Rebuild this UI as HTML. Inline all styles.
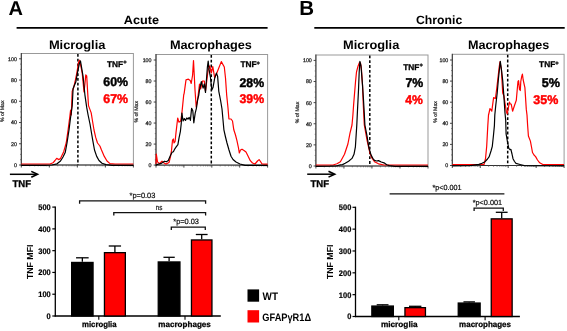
<!DOCTYPE html>
<html><head><meta charset="utf-8"><style>
html,body{margin:0;padding:0;background:#fff;width:567px;height:331px;overflow:hidden}
svg{display:block;will-change:transform}
text{font-family:"Liberation Sans", sans-serif;text-rendering:geometricPrecision}
</style></head><body>
<svg width="567" height="331" viewBox="0 0 567 331">
<rect width="567" height="331" fill="#fff"/>
<text x="8.6" y="15" font-size="20" fill="#000" font-weight="bold" >A</text>
<text x="299.3" y="15" font-size="20.5" fill="#000" font-weight="bold" >B</text>
<text x="123.8" y="24.1" font-size="12" fill="#000" font-weight="bold" textLength="35.2" lengthAdjust="spacingAndGlyphs" >Acute</text>
<text x="416.0" y="24.1" font-size="12" fill="#000" font-weight="bold" textLength="46.2" lengthAdjust="spacingAndGlyphs" >Chronic</text>
<line x1="16.6" y1="27.9" x2="267.6" y2="27.9" stroke="#000" stroke-width="1.6" />
<line x1="314.3" y1="27.9" x2="564.7" y2="27.9" stroke="#000" stroke-width="1.6" />
<text x="48.9" y="49" font-size="12.3" fill="#000" font-weight="bold" textLength="56.5" lengthAdjust="spacingAndGlyphs" >Microglia</text>
<text x="169.9" y="48.9" font-size="12.3" fill="#000" font-weight="bold" textLength="82.0" lengthAdjust="spacingAndGlyphs" >Macrophages</text>
<text x="343.1" y="49" font-size="12.3" fill="#000" font-weight="bold" textLength="56.2" lengthAdjust="spacingAndGlyphs" >Microglia</text>
<text x="468.0" y="49.2" font-size="12.3" fill="#000" font-weight="bold" textLength="81.4" lengthAdjust="spacingAndGlyphs" >Macrophages</text>
<rect x="21.3" y="53.5" width="112.10000000000001" height="111.5" fill="none" stroke="#999" stroke-width="1"/>
<line x1="21.3" y1="53.0" x2="21.3" y2="165.5" stroke="#333" stroke-width="1.0" />
<line x1="20.8" y1="165.0" x2="133.4" y2="165.0" stroke="#333" stroke-width="1.0" />
<line x1="19.0" y1="165.0" x2="21.3" y2="165.0" stroke="#333" stroke-width="0.9" />
<text x="16.9" y="166.9" font-size="5.3" fill="#222" font-weight="normal" text-anchor="end" stroke="#222" stroke-width="0.25">0</text>
<line x1="19.0" y1="143.76" x2="21.3" y2="143.76" stroke="#333" stroke-width="0.9" />
<text x="16.9" y="145.66" font-size="5.3" fill="#222" font-weight="normal" text-anchor="end" stroke="#222" stroke-width="0.25">20</text>
<line x1="19.0" y1="122.52" x2="21.3" y2="122.52" stroke="#333" stroke-width="0.9" />
<text x="16.9" y="124.42" font-size="5.3" fill="#222" font-weight="normal" text-anchor="end" stroke="#222" stroke-width="0.25">40</text>
<line x1="19.0" y1="101.28" x2="21.3" y2="101.28" stroke="#333" stroke-width="0.9" />
<text x="16.9" y="103.18" font-size="5.3" fill="#222" font-weight="normal" text-anchor="end" stroke="#222" stroke-width="0.25">60</text>
<line x1="19.0" y1="80.03999999999999" x2="21.3" y2="80.03999999999999" stroke="#333" stroke-width="0.9" />
<text x="16.9" y="81.94" font-size="5.3" fill="#222" font-weight="normal" text-anchor="end" stroke="#222" stroke-width="0.25">80</text>
<line x1="19.0" y1="58.8" x2="21.3" y2="58.8" stroke="#333" stroke-width="0.9" />
<text x="16.9" y="60.699999999999996" font-size="5.3" fill="#222" font-weight="normal" text-anchor="end" stroke="#222" stroke-width="0.25">100</text>
<line x1="20.1" y1="159.69" x2="21.3" y2="159.69" stroke="#555" stroke-width="0.7" />
<line x1="20.1" y1="154.38" x2="21.3" y2="154.38" stroke="#555" stroke-width="0.7" />
<line x1="20.1" y1="149.07" x2="21.3" y2="149.07" stroke="#555" stroke-width="0.7" />
<line x1="20.1" y1="138.45" x2="21.3" y2="138.45" stroke="#555" stroke-width="0.7" />
<line x1="20.1" y1="133.14" x2="21.3" y2="133.14" stroke="#555" stroke-width="0.7" />
<line x1="20.1" y1="127.83" x2="21.3" y2="127.83" stroke="#555" stroke-width="0.7" />
<line x1="20.1" y1="117.21000000000001" x2="21.3" y2="117.21000000000001" stroke="#555" stroke-width="0.7" />
<line x1="20.1" y1="111.9" x2="21.3" y2="111.9" stroke="#555" stroke-width="0.7" />
<line x1="20.1" y1="106.59" x2="21.3" y2="106.59" stroke="#555" stroke-width="0.7" />
<line x1="20.1" y1="95.97" x2="21.3" y2="95.97" stroke="#555" stroke-width="0.7" />
<line x1="20.1" y1="90.66" x2="21.3" y2="90.66" stroke="#555" stroke-width="0.7" />
<line x1="20.1" y1="85.35" x2="21.3" y2="85.35" stroke="#555" stroke-width="0.7" />
<line x1="20.1" y1="74.72999999999999" x2="21.3" y2="74.72999999999999" stroke="#555" stroke-width="0.7" />
<line x1="20.1" y1="69.42" x2="21.3" y2="69.42" stroke="#555" stroke-width="0.7" />
<line x1="20.1" y1="64.11" x2="21.3" y2="64.11" stroke="#555" stroke-width="0.7" />
<line x1="21.3" y1="165.0" x2="21.3" y2="167.5" stroke="#333" stroke-width="0.9" />
<line x1="29.736365628483075" y1="165.0" x2="29.736365628483075" y2="166.3" stroke="#555" stroke-width="0.7" />
<line x1="34.671323163518544" y1="165.0" x2="34.671323163518544" y2="166.3" stroke="#555" stroke-width="0.7" />
<line x1="38.172731256966145" y1="165.0" x2="38.172731256966145" y2="166.3" stroke="#555" stroke-width="0.7" />
<line x1="40.88863437151693" y1="165.0" x2="40.88863437151693" y2="166.3" stroke="#555" stroke-width="0.7" />
<line x1="43.10768879200161" y1="165.0" x2="43.10768879200161" y2="166.3" stroke="#555" stroke-width="0.7" />
<line x1="44.983872571399544" y1="165.0" x2="44.983872571399544" y2="166.3" stroke="#555" stroke-width="0.7" />
<line x1="46.60909688544922" y1="165.0" x2="46.60909688544922" y2="166.3" stroke="#555" stroke-width="0.7" />
<line x1="48.04264632703708" y1="165.0" x2="48.04264632703708" y2="166.3" stroke="#555" stroke-width="0.7" />
<line x1="49.325" y1="165.0" x2="49.325" y2="167.5" stroke="#333" stroke-width="0.9" />
<line x1="57.76136562848308" y1="165.0" x2="57.76136562848308" y2="166.3" stroke="#555" stroke-width="0.7" />
<line x1="62.69632316351854" y1="165.0" x2="62.69632316351854" y2="166.3" stroke="#555" stroke-width="0.7" />
<line x1="66.19773125696615" y1="165.0" x2="66.19773125696615" y2="166.3" stroke="#555" stroke-width="0.7" />
<line x1="68.91363437151693" y1="165.0" x2="68.91363437151693" y2="166.3" stroke="#555" stroke-width="0.7" />
<line x1="71.13268879200162" y1="165.0" x2="71.13268879200162" y2="166.3" stroke="#555" stroke-width="0.7" />
<line x1="73.00887257139955" y1="165.0" x2="73.00887257139955" y2="166.3" stroke="#555" stroke-width="0.7" />
<line x1="74.63409688544922" y1="165.0" x2="74.63409688544922" y2="166.3" stroke="#555" stroke-width="0.7" />
<line x1="76.06764632703708" y1="165.0" x2="76.06764632703708" y2="166.3" stroke="#555" stroke-width="0.7" />
<line x1="77.35000000000001" y1="165.0" x2="77.35000000000001" y2="167.5" stroke="#333" stroke-width="0.9" />
<line x1="85.78636562848308" y1="165.0" x2="85.78636562848308" y2="166.3" stroke="#555" stroke-width="0.7" />
<line x1="90.72132316351855" y1="165.0" x2="90.72132316351855" y2="166.3" stroke="#555" stroke-width="0.7" />
<line x1="94.22273125696616" y1="165.0" x2="94.22273125696616" y2="166.3" stroke="#555" stroke-width="0.7" />
<line x1="96.93863437151694" y1="165.0" x2="96.93863437151694" y2="166.3" stroke="#555" stroke-width="0.7" />
<line x1="99.15768879200162" y1="165.0" x2="99.15768879200162" y2="166.3" stroke="#555" stroke-width="0.7" />
<line x1="101.03387257139956" y1="165.0" x2="101.03387257139956" y2="166.3" stroke="#555" stroke-width="0.7" />
<line x1="102.65909688544923" y1="165.0" x2="102.65909688544923" y2="166.3" stroke="#555" stroke-width="0.7" />
<line x1="104.09264632703709" y1="165.0" x2="104.09264632703709" y2="166.3" stroke="#555" stroke-width="0.7" />
<line x1="105.375" y1="165.0" x2="105.375" y2="167.5" stroke="#333" stroke-width="0.9" />
<line x1="113.81136562848307" y1="165.0" x2="113.81136562848307" y2="166.3" stroke="#555" stroke-width="0.7" />
<line x1="118.74632316351854" y1="165.0" x2="118.74632316351854" y2="166.3" stroke="#555" stroke-width="0.7" />
<line x1="122.24773125696615" y1="165.0" x2="122.24773125696615" y2="166.3" stroke="#555" stroke-width="0.7" />
<line x1="124.96363437151693" y1="165.0" x2="124.96363437151693" y2="166.3" stroke="#555" stroke-width="0.7" />
<line x1="127.18268879200161" y1="165.0" x2="127.18268879200161" y2="166.3" stroke="#555" stroke-width="0.7" />
<line x1="129.05887257139955" y1="165.0" x2="129.05887257139955" y2="166.3" stroke="#555" stroke-width="0.7" />
<line x1="130.6840968854492" y1="165.0" x2="130.6840968854492" y2="166.3" stroke="#555" stroke-width="0.7" />
<line x1="132.11764632703708" y1="165.0" x2="132.11764632703708" y2="166.3" stroke="#555" stroke-width="0.7" />
<line x1="133.4" y1="165.0" x2="133.4" y2="167.5" stroke="#333" stroke-width="0.9" />
<text x="3.9" y="111.25" font-size="5.2" fill="#222" font-weight="normal" text-anchor="middle" transform="rotate(-90 3.9 111.25)" stroke="#222" stroke-width="0.2">% of Max</text>
<line x1="77.9" y1="54.0" x2="77.9" y2="165.0" stroke="#000" stroke-width="1.5" stroke-dasharray="2.8,2.0"/>
<polyline points="21.3,164.0 38.0,164.0 44.0,164.0 50.0,164.0 53.0,162.8 55.0,160.5 56.7,158.3 58.5,159.6 60.5,158.6 63.7,151.7 66.2,143.0 68.1,129.8 69.6,118.3 70.6,110.0 71.3,115.0 72.2,91.2 73.7,87.5 75.0,82.0 76.8,73.0 78.6,62.2 79.5,60.2 80.4,64.0 82.2,73.0 83.1,82.1 84.0,92.0 84.9,84.0 85.8,74.9 86.7,75.8 87.6,91.2 88.5,105.6 91.2,112.9 92.5,121.0 94.0,130.0 95.7,137.4 97.5,143.0 99.9,146.0 101.5,150.0 104.3,156.4 107.0,161.0 110.0,163.6 115.0,164.0 133.4,164.0" fill="none" stroke="#ff0000" stroke-width="1.2" stroke-linejoin="round"/>
<polyline points="21.3,165.3 45.0,165.3 52.0,165.0 57.0,163.8 60.5,161.0 63.0,157.0 65.2,152.6 67.0,143.0 69.0,129.8 70.5,118.0 72.2,106.0 73.1,88.5 75.8,82.1 77.7,71.3 79.5,63.0 80.5,61.0 81.3,65.8 83.1,76.7 84.9,94.8 86.7,107.4 88.1,115.0 90.0,124.0 91.5,133.0 92.9,141.2 94.5,150.0 96.7,156.4 99.0,160.5 102.0,163.3 106.0,164.6 112.0,165.3 133.4,165.3" fill="none" stroke="#000" stroke-width="1.2" stroke-linejoin="round"/>
<text x="107.0" y="66.8" font-size="8.3" fill="#000" font-weight="bold" stroke="#000" stroke-width="0.3">TNF<tspan font-size="5.8" dy="-2.4">+</tspan></text>
<text x="103.3" y="86.3" font-size="12.6" fill="#000" font-weight="bold" textLength="24.8" lengthAdjust="spacingAndGlyphs" stroke="#000" stroke-width="0.45">60%</text>
<text x="103.3" y="103.2" font-size="12.6" fill="#ff0000" font-weight="bold" textLength="24.8" lengthAdjust="spacingAndGlyphs" stroke="#ff0000" stroke-width="0.45">67%</text>
<rect x="156.0" y="54.5" width="111.60000000000002" height="110.6" fill="none" stroke="#999" stroke-width="1"/>
<line x1="156.0" y1="54.0" x2="156.0" y2="165.6" stroke="#333" stroke-width="1.0" />
<line x1="155.5" y1="165.1" x2="267.6" y2="165.1" stroke="#333" stroke-width="1.0" />
<line x1="153.7" y1="165.1" x2="156.0" y2="165.1" stroke="#333" stroke-width="0.9" />
<text x="151.5" y="167.0" font-size="5.3" fill="#222" font-weight="normal" text-anchor="end" stroke="#222" stroke-width="0.25">0</text>
<line x1="153.7" y1="144.07999999999998" x2="156.0" y2="144.07999999999998" stroke="#333" stroke-width="0.9" />
<text x="151.5" y="145.98" font-size="5.3" fill="#222" font-weight="normal" text-anchor="end" stroke="#222" stroke-width="0.25">20</text>
<line x1="153.7" y1="123.06" x2="156.0" y2="123.06" stroke="#333" stroke-width="0.9" />
<text x="151.5" y="124.96000000000001" font-size="5.3" fill="#222" font-weight="normal" text-anchor="end" stroke="#222" stroke-width="0.25">40</text>
<line x1="153.7" y1="102.03999999999999" x2="156.0" y2="102.03999999999999" stroke="#333" stroke-width="0.9" />
<text x="151.5" y="103.94" font-size="5.3" fill="#222" font-weight="normal" text-anchor="end" stroke="#222" stroke-width="0.25">60</text>
<line x1="153.7" y1="81.02" x2="156.0" y2="81.02" stroke="#333" stroke-width="0.9" />
<text x="151.5" y="82.92" font-size="5.3" fill="#222" font-weight="normal" text-anchor="end" stroke="#222" stroke-width="0.25">80</text>
<line x1="153.7" y1="60.0" x2="156.0" y2="60.0" stroke="#333" stroke-width="0.9" />
<text x="151.5" y="61.9" font-size="5.3" fill="#222" font-weight="normal" text-anchor="end" stroke="#222" stroke-width="0.25">100</text>
<line x1="154.8" y1="159.845" x2="156.0" y2="159.845" stroke="#555" stroke-width="0.7" />
<line x1="154.8" y1="154.59" x2="156.0" y2="154.59" stroke="#555" stroke-width="0.7" />
<line x1="154.8" y1="149.335" x2="156.0" y2="149.335" stroke="#555" stroke-width="0.7" />
<line x1="154.8" y1="138.825" x2="156.0" y2="138.825" stroke="#555" stroke-width="0.7" />
<line x1="154.8" y1="133.57" x2="156.0" y2="133.57" stroke="#555" stroke-width="0.7" />
<line x1="154.8" y1="128.315" x2="156.0" y2="128.315" stroke="#555" stroke-width="0.7" />
<line x1="154.8" y1="117.805" x2="156.0" y2="117.805" stroke="#555" stroke-width="0.7" />
<line x1="154.8" y1="112.55" x2="156.0" y2="112.55" stroke="#555" stroke-width="0.7" />
<line x1="154.8" y1="107.29499999999999" x2="156.0" y2="107.29499999999999" stroke="#555" stroke-width="0.7" />
<line x1="154.8" y1="96.785" x2="156.0" y2="96.785" stroke="#555" stroke-width="0.7" />
<line x1="154.8" y1="91.53" x2="156.0" y2="91.53" stroke="#555" stroke-width="0.7" />
<line x1="154.8" y1="86.275" x2="156.0" y2="86.275" stroke="#555" stroke-width="0.7" />
<line x1="154.8" y1="75.765" x2="156.0" y2="75.765" stroke="#555" stroke-width="0.7" />
<line x1="154.8" y1="70.51" x2="156.0" y2="70.51" stroke="#555" stroke-width="0.7" />
<line x1="154.8" y1="65.255" x2="156.0" y2="65.255" stroke="#555" stroke-width="0.7" />
<line x1="156.0" y1="165.1" x2="156.0" y2="167.6" stroke="#333" stroke-width="0.9" />
<line x1="164.39873687902508" y1="165.1" x2="164.39873687902508" y2="166.4" stroke="#555" stroke-width="0.7" />
<line x1="169.31168300667858" y1="165.1" x2="169.31168300667858" y2="166.4" stroke="#555" stroke-width="0.7" />
<line x1="172.79747375805016" y1="165.1" x2="172.79747375805016" y2="166.4" stroke="#555" stroke-width="0.7" />
<line x1="175.50126312097493" y1="165.1" x2="175.50126312097493" y2="166.4" stroke="#555" stroke-width="0.7" />
<line x1="177.71041988570366" y1="165.1" x2="177.71041988570366" y2="166.4" stroke="#555" stroke-width="0.7" />
<line x1="179.57823531639778" y1="165.1" x2="179.57823531639778" y2="166.4" stroke="#555" stroke-width="0.7" />
<line x1="181.19621063707524" y1="165.1" x2="181.19621063707524" y2="166.4" stroke="#555" stroke-width="0.7" />
<line x1="182.62336601335716" y1="165.1" x2="182.62336601335716" y2="166.4" stroke="#555" stroke-width="0.7" />
<line x1="183.9" y1="165.1" x2="183.9" y2="167.6" stroke="#333" stroke-width="0.9" />
<line x1="192.29873687902509" y1="165.1" x2="192.29873687902509" y2="166.4" stroke="#555" stroke-width="0.7" />
<line x1="197.21168300667858" y1="165.1" x2="197.21168300667858" y2="166.4" stroke="#555" stroke-width="0.7" />
<line x1="200.69747375805017" y1="165.1" x2="200.69747375805017" y2="166.4" stroke="#555" stroke-width="0.7" />
<line x1="203.40126312097493" y1="165.1" x2="203.40126312097493" y2="166.4" stroke="#555" stroke-width="0.7" />
<line x1="205.61041988570366" y1="165.1" x2="205.61041988570366" y2="166.4" stroke="#555" stroke-width="0.7" />
<line x1="207.4782353163978" y1="165.1" x2="207.4782353163978" y2="166.4" stroke="#555" stroke-width="0.7" />
<line x1="209.09621063707525" y1="165.1" x2="209.09621063707525" y2="166.4" stroke="#555" stroke-width="0.7" />
<line x1="210.5233660133572" y1="165.1" x2="210.5233660133572" y2="166.4" stroke="#555" stroke-width="0.7" />
<line x1="211.8" y1="165.1" x2="211.8" y2="167.6" stroke="#333" stroke-width="0.9" />
<line x1="220.1987368790251" y1="165.1" x2="220.1987368790251" y2="166.4" stroke="#555" stroke-width="0.7" />
<line x1="225.1116830066786" y1="165.1" x2="225.1116830066786" y2="166.4" stroke="#555" stroke-width="0.7" />
<line x1="228.59747375805017" y1="165.1" x2="228.59747375805017" y2="166.4" stroke="#555" stroke-width="0.7" />
<line x1="231.30126312097494" y1="165.1" x2="231.30126312097494" y2="166.4" stroke="#555" stroke-width="0.7" />
<line x1="233.51041988570367" y1="165.1" x2="233.51041988570367" y2="166.4" stroke="#555" stroke-width="0.7" />
<line x1="235.3782353163978" y1="165.1" x2="235.3782353163978" y2="166.4" stroke="#555" stroke-width="0.7" />
<line x1="236.99621063707525" y1="165.1" x2="236.99621063707525" y2="166.4" stroke="#555" stroke-width="0.7" />
<line x1="238.42336601335717" y1="165.1" x2="238.42336601335717" y2="166.4" stroke="#555" stroke-width="0.7" />
<line x1="239.70000000000002" y1="165.1" x2="239.70000000000002" y2="167.6" stroke="#333" stroke-width="0.9" />
<line x1="248.0987368790251" y1="165.1" x2="248.0987368790251" y2="166.4" stroke="#555" stroke-width="0.7" />
<line x1="253.0116830066786" y1="165.1" x2="253.0116830066786" y2="166.4" stroke="#555" stroke-width="0.7" />
<line x1="256.49747375805015" y1="165.1" x2="256.49747375805015" y2="166.4" stroke="#555" stroke-width="0.7" />
<line x1="259.20126312097494" y1="165.1" x2="259.20126312097494" y2="166.4" stroke="#555" stroke-width="0.7" />
<line x1="261.4104198857037" y1="165.1" x2="261.4104198857037" y2="166.4" stroke="#555" stroke-width="0.7" />
<line x1="263.2782353163978" y1="165.1" x2="263.2782353163978" y2="166.4" stroke="#555" stroke-width="0.7" />
<line x1="264.8962106370752" y1="165.1" x2="264.8962106370752" y2="166.4" stroke="#555" stroke-width="0.7" />
<line x1="266.3233660133572" y1="165.1" x2="266.3233660133572" y2="166.4" stroke="#555" stroke-width="0.7" />
<line x1="267.6" y1="165.1" x2="267.6" y2="167.6" stroke="#333" stroke-width="0.9" />
<text x="138.1" y="111.8" font-size="5.2" fill="#222" font-weight="normal" text-anchor="middle" transform="rotate(-90 138.1 111.8)" stroke="#222" stroke-width="0.2">% of Max</text>
<line x1="211.3" y1="55.0" x2="211.3" y2="165.1" stroke="#000" stroke-width="1.5" stroke-dasharray="2.8,2.0"/>
<polyline points="156.0,164.1 156.3,154.2 157.5,161.8 159.4,163.7 162.0,161.2 163.3,162.5 165.8,164.1 169.0,162.5 170.5,156.7 171.5,150.4 172.5,140.2 173.4,139.0 174.0,142.8 175.1,141.5 176.0,132.6 177.0,124.0 177.7,118.0 178.9,122.2 180.7,121.0 181.9,113.1 183.7,95.0 184.2,93.1 186.0,79.8 188.4,79.2 190.2,80.4 191.2,83.5 192.6,75.0 193.5,60.5 195.0,90.0 196.2,107.0 197.6,99.8 198.8,90.0 199.5,84.0 200.7,88.8 202.5,81.0 204.3,81.0 205.5,91.3 208.0,70.7 209.8,65.9 211.3,73.0 212.8,66.5 214.6,77.4 215.8,75.5 218.2,69.5 221.3,61.6 224.3,67.0 225.5,78.0 226.7,95.3 228.0,108.0 228.9,118.8 231.0,119.0 232.5,121.0 233.8,129.8 235.5,135.0 237.0,140.9 238.5,148.0 239.3,153.0 240.5,150.0 242.0,149.2 244.0,150.5 246.0,152.0 248.0,156.0 250.3,160.7 252.5,163.0 255.0,164.0 257.5,161.0 259.1,159.6 260.5,161.5 262.0,164.0 264.0,164.1 267.6,164.1" fill="none" stroke="#ff0000" stroke-width="1.2" stroke-linejoin="round"/>
<polyline points="156.0,165.3 157.5,164.3 160.7,163.7 162.6,162.5 164.5,161.2 166.4,161.8 168.3,160.6 170.2,156.1 172.1,152.3 173.4,151.7 174.7,149.1 176.0,147.2 177.9,144.7 179.1,137.7 180.4,131.3 181.2,124.0 181.9,113.1 183.1,121.0 184.3,118.6 185.5,120.4 186.8,118.0 188.0,119.2 189.2,117.4 190.4,120.4 191.6,108.3 192.8,110.7 193.8,122.8 195.2,113.1 196.4,108.3 197.6,99.8 198.8,95.0 199.5,90.0 201.3,81.6 203.1,88.2 204.3,84.0 205.5,92.5 207.4,67.0 208.2,61.0 209.2,70.7 210.4,76.8 211.8,90.0 213.0,87.6 214.6,78.6 216.4,73.1 217.6,76.1 218.8,91.3 220.5,100.0 222.0,109.0 223.9,129.8 225.5,137.0 227.0,143.0 229.0,150.0 231.0,156.3 233.0,159.5 236.0,162.0 240.0,164.0 245.0,165.3 267.6,165.4" fill="none" stroke="#000" stroke-width="1.2" stroke-linejoin="round"/>
<text x="240.4" y="67.4" font-size="8.3" fill="#000" font-weight="bold" stroke="#000" stroke-width="0.3">TNF<tspan font-size="5.8" dy="-2.4">+</tspan></text>
<text x="239.5" y="86.7" font-size="12.6" fill="#000" font-weight="bold" textLength="24.6" lengthAdjust="spacingAndGlyphs" stroke="#000" stroke-width="0.45">28%</text>
<text x="239.5" y="103.3" font-size="12.6" fill="#ff0000" font-weight="bold" textLength="24.6" lengthAdjust="spacingAndGlyphs" stroke="#ff0000" stroke-width="0.45">39%</text>
<rect x="315.9" y="55.0" width="112.10000000000002" height="111.0" fill="none" stroke="#999" stroke-width="1"/>
<line x1="315.9" y1="54.5" x2="315.9" y2="166.5" stroke="#333" stroke-width="1.0" />
<line x1="315.4" y1="166.0" x2="428.0" y2="166.0" stroke="#333" stroke-width="1.0" />
<line x1="313.59999999999997" y1="166.0" x2="315.9" y2="166.0" stroke="#333" stroke-width="0.9" />
<text x="311.8" y="167.9" font-size="5.3" fill="#222" font-weight="normal" text-anchor="end" stroke="#222" stroke-width="0.25">0</text>
<line x1="313.59999999999997" y1="144.88" x2="315.9" y2="144.88" stroke="#333" stroke-width="0.9" />
<text x="311.8" y="146.78" font-size="5.3" fill="#222" font-weight="normal" text-anchor="end" stroke="#222" stroke-width="0.25">20</text>
<line x1="313.59999999999997" y1="123.75999999999999" x2="315.9" y2="123.75999999999999" stroke="#333" stroke-width="0.9" />
<text x="311.8" y="125.66" font-size="5.3" fill="#222" font-weight="normal" text-anchor="end" stroke="#222" stroke-width="0.25">40</text>
<line x1="313.59999999999997" y1="102.64" x2="315.9" y2="102.64" stroke="#333" stroke-width="0.9" />
<text x="311.8" y="104.54" font-size="5.3" fill="#222" font-weight="normal" text-anchor="end" stroke="#222" stroke-width="0.25">60</text>
<line x1="313.59999999999997" y1="81.52" x2="315.9" y2="81.52" stroke="#333" stroke-width="0.9" />
<text x="311.8" y="83.42" font-size="5.3" fill="#222" font-weight="normal" text-anchor="end" stroke="#222" stroke-width="0.25">80</text>
<line x1="313.59999999999997" y1="60.39999999999999" x2="315.9" y2="60.39999999999999" stroke="#333" stroke-width="0.9" />
<text x="311.8" y="62.29999999999999" font-size="5.3" fill="#222" font-weight="normal" text-anchor="end" stroke="#222" stroke-width="0.25">100</text>
<line x1="314.7" y1="160.72" x2="315.9" y2="160.72" stroke="#555" stroke-width="0.7" />
<line x1="314.7" y1="155.44" x2="315.9" y2="155.44" stroke="#555" stroke-width="0.7" />
<line x1="314.7" y1="150.16" x2="315.9" y2="150.16" stroke="#555" stroke-width="0.7" />
<line x1="314.7" y1="139.6" x2="315.9" y2="139.6" stroke="#555" stroke-width="0.7" />
<line x1="314.7" y1="134.32" x2="315.9" y2="134.32" stroke="#555" stroke-width="0.7" />
<line x1="314.7" y1="129.04" x2="315.9" y2="129.04" stroke="#555" stroke-width="0.7" />
<line x1="314.7" y1="118.47999999999999" x2="315.9" y2="118.47999999999999" stroke="#555" stroke-width="0.7" />
<line x1="314.7" y1="113.19999999999999" x2="315.9" y2="113.19999999999999" stroke="#555" stroke-width="0.7" />
<line x1="314.7" y1="107.91999999999999" x2="315.9" y2="107.91999999999999" stroke="#555" stroke-width="0.7" />
<line x1="314.7" y1="97.36" x2="315.9" y2="97.36" stroke="#555" stroke-width="0.7" />
<line x1="314.7" y1="92.08" x2="315.9" y2="92.08" stroke="#555" stroke-width="0.7" />
<line x1="314.7" y1="86.8" x2="315.9" y2="86.8" stroke="#555" stroke-width="0.7" />
<line x1="314.7" y1="76.24" x2="315.9" y2="76.24" stroke="#555" stroke-width="0.7" />
<line x1="314.7" y1="70.96" x2="315.9" y2="70.96" stroke="#555" stroke-width="0.7" />
<line x1="314.7" y1="65.67999999999999" x2="315.9" y2="65.67999999999999" stroke="#555" stroke-width="0.7" />
<line x1="315.9" y1="166.0" x2="315.9" y2="168.5" stroke="#333" stroke-width="0.9" />
<line x1="324.33636562848307" y1="166.0" x2="324.33636562848307" y2="167.3" stroke="#555" stroke-width="0.7" />
<line x1="329.2713231635185" y1="166.0" x2="329.2713231635185" y2="167.3" stroke="#555" stroke-width="0.7" />
<line x1="332.77273125696615" y1="166.0" x2="332.77273125696615" y2="167.3" stroke="#555" stroke-width="0.7" />
<line x1="335.4886343715169" y1="166.0" x2="335.4886343715169" y2="167.3" stroke="#555" stroke-width="0.7" />
<line x1="337.7076887920016" y1="166.0" x2="337.7076887920016" y2="167.3" stroke="#555" stroke-width="0.7" />
<line x1="339.5838725713995" y1="166.0" x2="339.5838725713995" y2="167.3" stroke="#555" stroke-width="0.7" />
<line x1="341.2090968854492" y1="166.0" x2="341.2090968854492" y2="167.3" stroke="#555" stroke-width="0.7" />
<line x1="342.6426463270371" y1="166.0" x2="342.6426463270371" y2="167.3" stroke="#555" stroke-width="0.7" />
<line x1="343.92499999999995" y1="166.0" x2="343.92499999999995" y2="168.5" stroke="#333" stroke-width="0.9" />
<line x1="352.36136562848304" y1="166.0" x2="352.36136562848304" y2="167.3" stroke="#555" stroke-width="0.7" />
<line x1="357.2963231635185" y1="166.0" x2="357.2963231635185" y2="167.3" stroke="#555" stroke-width="0.7" />
<line x1="360.79773125696613" y1="166.0" x2="360.79773125696613" y2="167.3" stroke="#555" stroke-width="0.7" />
<line x1="363.5136343715169" y1="166.0" x2="363.5136343715169" y2="167.3" stroke="#555" stroke-width="0.7" />
<line x1="365.73268879200157" y1="166.0" x2="365.73268879200157" y2="167.3" stroke="#555" stroke-width="0.7" />
<line x1="367.6088725713995" y1="166.0" x2="367.6088725713995" y2="167.3" stroke="#555" stroke-width="0.7" />
<line x1="369.23409688544916" y1="166.0" x2="369.23409688544916" y2="167.3" stroke="#555" stroke-width="0.7" />
<line x1="370.66764632703706" y1="166.0" x2="370.66764632703706" y2="167.3" stroke="#555" stroke-width="0.7" />
<line x1="371.95" y1="166.0" x2="371.95" y2="168.5" stroke="#333" stroke-width="0.9" />
<line x1="380.3863656284831" y1="166.0" x2="380.3863656284831" y2="167.3" stroke="#555" stroke-width="0.7" />
<line x1="385.3213231635185" y1="166.0" x2="385.3213231635185" y2="167.3" stroke="#555" stroke-width="0.7" />
<line x1="388.8227312569661" y1="166.0" x2="388.8227312569661" y2="167.3" stroke="#555" stroke-width="0.7" />
<line x1="391.53863437151693" y1="166.0" x2="391.53863437151693" y2="167.3" stroke="#555" stroke-width="0.7" />
<line x1="393.7576887920016" y1="166.0" x2="393.7576887920016" y2="167.3" stroke="#555" stroke-width="0.7" />
<line x1="395.63387257139954" y1="166.0" x2="395.63387257139954" y2="167.3" stroke="#555" stroke-width="0.7" />
<line x1="397.2590968854492" y1="166.0" x2="397.2590968854492" y2="167.3" stroke="#555" stroke-width="0.7" />
<line x1="398.6926463270371" y1="166.0" x2="398.6926463270371" y2="167.3" stroke="#555" stroke-width="0.7" />
<line x1="399.975" y1="166.0" x2="399.975" y2="168.5" stroke="#333" stroke-width="0.9" />
<line x1="408.4113656284831" y1="166.0" x2="408.4113656284831" y2="167.3" stroke="#555" stroke-width="0.7" />
<line x1="413.34632316351855" y1="166.0" x2="413.34632316351855" y2="167.3" stroke="#555" stroke-width="0.7" />
<line x1="416.8477312569662" y1="166.0" x2="416.8477312569662" y2="167.3" stroke="#555" stroke-width="0.7" />
<line x1="419.56363437151697" y1="166.0" x2="419.56363437151697" y2="167.3" stroke="#555" stroke-width="0.7" />
<line x1="421.78268879200164" y1="166.0" x2="421.78268879200164" y2="167.3" stroke="#555" stroke-width="0.7" />
<line x1="423.65887257139957" y1="166.0" x2="423.65887257139957" y2="167.3" stroke="#555" stroke-width="0.7" />
<line x1="425.28409688544923" y1="166.0" x2="425.28409688544923" y2="167.3" stroke="#555" stroke-width="0.7" />
<line x1="426.71764632703713" y1="166.0" x2="426.71764632703713" y2="167.3" stroke="#555" stroke-width="0.7" />
<line x1="428.0" y1="166.0" x2="428.0" y2="168.5" stroke="#333" stroke-width="0.9" />
<text x="298.6" y="112.5" font-size="5.2" fill="#222" font-weight="normal" text-anchor="middle" transform="rotate(-90 298.6 112.5)" stroke="#222" stroke-width="0.2">% of Max</text>
<line x1="369.8" y1="55.5" x2="369.8" y2="166.0" stroke="#000" stroke-width="1.5" stroke-dasharray="2.8,2.0"/>
<polyline points="315.9,165.0 322.0,165.0 327.0,165.0 333.0,165.0 337.0,163.8 340.4,161.7 344.5,154.3 347.9,144.0 350.0,133.2 352.0,125.0 352.9,115.0 353.6,105.0 354.5,94.0 355.5,82.0 356.5,72.0 358.1,65.9 359.5,62.5 360.5,63.0 361.5,70.0 362.5,85.0 363.3,105.0 364.3,125.0 367.0,140.0 369.7,152.2 371.7,157.7 374.5,161.7 378.5,163.8 384.0,165.0 390.0,165.0 428.0,165.0" fill="none" stroke="#ff0000" stroke-width="1.2" stroke-linejoin="round"/>
<polyline points="315.9,166.3 330.0,166.2 336.0,166.0 340.4,164.9 342.5,164.6 345.2,163.3 348.6,161.2 352.0,158.4 354.0,154.3 355.4,146.8 356.1,135.9 356.8,125.0 357.5,110.0 358.5,90.0 359.2,72.0 359.9,61.3 361.0,66.0 362.5,85.0 363.5,100.0 364.2,112.0 364.9,125.0 367.0,135.9 369.0,148.1 371.0,154.9 372.8,158.3 374.5,160.4 376.5,161.0 378.5,160.6 381.3,162.0 384.0,162.8 386.7,164.7 389.4,165.6 395.0,166.3 428.0,166.3" fill="none" stroke="#000" stroke-width="1.2" stroke-linejoin="round"/>
<text x="403.3" y="69.8" font-size="8.3" fill="#000" font-weight="bold" stroke="#000" stroke-width="0.3">TNF<tspan font-size="5.8" dy="-2.4">+</tspan></text>
<text x="405.5" y="87.0" font-size="12.6" fill="#000" font-weight="bold" textLength="17.8" lengthAdjust="spacingAndGlyphs" stroke="#000" stroke-width="0.45">7%</text>
<text x="405.3" y="103.7" font-size="12.6" fill="#ff0000" font-weight="bold" textLength="17.6" lengthAdjust="spacingAndGlyphs" stroke="#ff0000" stroke-width="0.45">4%</text>
<rect x="452.3" y="54.3" width="111.80000000000001" height="111.2" fill="none" stroke="#999" stroke-width="1"/>
<line x1="452.3" y1="53.8" x2="452.3" y2="166.0" stroke="#333" stroke-width="1.0" />
<line x1="451.8" y1="165.5" x2="564.1" y2="165.5" stroke="#333" stroke-width="1.0" />
<line x1="450.0" y1="165.5" x2="452.3" y2="165.5" stroke="#333" stroke-width="0.9" />
<text x="448.3" y="167.4" font-size="5.3" fill="#222" font-weight="normal" text-anchor="end" stroke="#222" stroke-width="0.25">0</text>
<line x1="450.0" y1="144.4" x2="452.3" y2="144.4" stroke="#333" stroke-width="0.9" />
<text x="448.3" y="146.3" font-size="5.3" fill="#222" font-weight="normal" text-anchor="end" stroke="#222" stroke-width="0.25">20</text>
<line x1="450.0" y1="123.30000000000001" x2="452.3" y2="123.30000000000001" stroke="#333" stroke-width="0.9" />
<text x="448.3" y="125.20000000000002" font-size="5.3" fill="#222" font-weight="normal" text-anchor="end" stroke="#222" stroke-width="0.25">40</text>
<line x1="450.0" y1="102.2" x2="452.3" y2="102.2" stroke="#333" stroke-width="0.9" />
<text x="448.3" y="104.10000000000001" font-size="5.3" fill="#222" font-weight="normal" text-anchor="end" stroke="#222" stroke-width="0.25">60</text>
<line x1="450.0" y1="81.10000000000001" x2="452.3" y2="81.10000000000001" stroke="#333" stroke-width="0.9" />
<text x="448.3" y="83.00000000000001" font-size="5.3" fill="#222" font-weight="normal" text-anchor="end" stroke="#222" stroke-width="0.25">80</text>
<line x1="450.0" y1="60.0" x2="452.3" y2="60.0" stroke="#333" stroke-width="0.9" />
<text x="448.3" y="61.9" font-size="5.3" fill="#222" font-weight="normal" text-anchor="end" stroke="#222" stroke-width="0.25">100</text>
<line x1="451.1" y1="160.225" x2="452.3" y2="160.225" stroke="#555" stroke-width="0.7" />
<line x1="451.1" y1="154.95" x2="452.3" y2="154.95" stroke="#555" stroke-width="0.7" />
<line x1="451.1" y1="149.675" x2="452.3" y2="149.675" stroke="#555" stroke-width="0.7" />
<line x1="451.1" y1="139.125" x2="452.3" y2="139.125" stroke="#555" stroke-width="0.7" />
<line x1="451.1" y1="133.85" x2="452.3" y2="133.85" stroke="#555" stroke-width="0.7" />
<line x1="451.1" y1="128.575" x2="452.3" y2="128.575" stroke="#555" stroke-width="0.7" />
<line x1="451.1" y1="118.025" x2="452.3" y2="118.025" stroke="#555" stroke-width="0.7" />
<line x1="451.1" y1="112.75" x2="452.3" y2="112.75" stroke="#555" stroke-width="0.7" />
<line x1="451.1" y1="107.475" x2="452.3" y2="107.475" stroke="#555" stroke-width="0.7" />
<line x1="451.1" y1="96.925" x2="452.3" y2="96.925" stroke="#555" stroke-width="0.7" />
<line x1="451.1" y1="91.65" x2="452.3" y2="91.65" stroke="#555" stroke-width="0.7" />
<line x1="451.1" y1="86.375" x2="452.3" y2="86.375" stroke="#555" stroke-width="0.7" />
<line x1="451.1" y1="75.825" x2="452.3" y2="75.825" stroke="#555" stroke-width="0.7" />
<line x1="451.1" y1="70.55000000000001" x2="452.3" y2="70.55000000000001" stroke="#555" stroke-width="0.7" />
<line x1="451.1" y1="65.275" x2="452.3" y2="65.275" stroke="#555" stroke-width="0.7" />
<line x1="452.3" y1="165.5" x2="452.3" y2="168.0" stroke="#333" stroke-width="0.9" />
<line x1="460.71378837880826" y1="165.5" x2="460.71378837880826" y2="166.8" stroke="#555" stroke-width="0.7" />
<line x1="465.63553906941456" y1="165.5" x2="465.63553906941456" y2="166.8" stroke="#555" stroke-width="0.7" />
<line x1="469.12757675761657" y1="165.5" x2="469.12757675761657" y2="166.8" stroke="#555" stroke-width="0.7" />
<line x1="471.83621162119175" y1="165.5" x2="471.83621162119175" y2="166.8" stroke="#555" stroke-width="0.7" />
<line x1="474.04932744822287" y1="165.5" x2="474.04932744822287" y2="166.8" stroke="#555" stroke-width="0.7" />
<line x1="475.92049021839847" y1="165.5" x2="475.92049021839847" y2="166.8" stroke="#555" stroke-width="0.7" />
<line x1="477.5413651364248" y1="165.5" x2="477.5413651364248" y2="166.8" stroke="#555" stroke-width="0.7" />
<line x1="478.97107813882917" y1="165.5" x2="478.97107813882917" y2="166.8" stroke="#555" stroke-width="0.7" />
<line x1="480.25" y1="165.5" x2="480.25" y2="168.0" stroke="#333" stroke-width="0.9" />
<line x1="488.66378837880825" y1="165.5" x2="488.66378837880825" y2="166.8" stroke="#555" stroke-width="0.7" />
<line x1="493.58553906941455" y1="165.5" x2="493.58553906941455" y2="166.8" stroke="#555" stroke-width="0.7" />
<line x1="497.07757675761655" y1="165.5" x2="497.07757675761655" y2="166.8" stroke="#555" stroke-width="0.7" />
<line x1="499.78621162119174" y1="165.5" x2="499.78621162119174" y2="166.8" stroke="#555" stroke-width="0.7" />
<line x1="501.99932744822286" y1="165.5" x2="501.99932744822286" y2="166.8" stroke="#555" stroke-width="0.7" />
<line x1="503.87049021839846" y1="165.5" x2="503.87049021839846" y2="166.8" stroke="#555" stroke-width="0.7" />
<line x1="505.4913651364248" y1="165.5" x2="505.4913651364248" y2="166.8" stroke="#555" stroke-width="0.7" />
<line x1="506.92107813882916" y1="165.5" x2="506.92107813882916" y2="166.8" stroke="#555" stroke-width="0.7" />
<line x1="508.20000000000005" y1="165.5" x2="508.20000000000005" y2="168.0" stroke="#333" stroke-width="0.9" />
<line x1="516.6137883788083" y1="165.5" x2="516.6137883788083" y2="166.8" stroke="#555" stroke-width="0.7" />
<line x1="521.5355390694147" y1="165.5" x2="521.5355390694147" y2="166.8" stroke="#555" stroke-width="0.7" />
<line x1="525.0275767576165" y1="165.5" x2="525.0275767576165" y2="166.8" stroke="#555" stroke-width="0.7" />
<line x1="527.7362116211917" y1="165.5" x2="527.7362116211917" y2="166.8" stroke="#555" stroke-width="0.7" />
<line x1="529.9493274482229" y1="165.5" x2="529.9493274482229" y2="166.8" stroke="#555" stroke-width="0.7" />
<line x1="531.8204902183985" y1="165.5" x2="531.8204902183985" y2="166.8" stroke="#555" stroke-width="0.7" />
<line x1="533.4413651364249" y1="165.5" x2="533.4413651364249" y2="166.8" stroke="#555" stroke-width="0.7" />
<line x1="534.8710781388291" y1="165.5" x2="534.8710781388291" y2="166.8" stroke="#555" stroke-width="0.7" />
<line x1="536.15" y1="165.5" x2="536.15" y2="168.0" stroke="#333" stroke-width="0.9" />
<line x1="544.5637883788082" y1="165.5" x2="544.5637883788082" y2="166.8" stroke="#555" stroke-width="0.7" />
<line x1="549.4855390694146" y1="165.5" x2="549.4855390694146" y2="166.8" stroke="#555" stroke-width="0.7" />
<line x1="552.9775767576165" y1="165.5" x2="552.9775767576165" y2="166.8" stroke="#555" stroke-width="0.7" />
<line x1="555.6862116211917" y1="165.5" x2="555.6862116211917" y2="166.8" stroke="#555" stroke-width="0.7" />
<line x1="557.8993274482228" y1="165.5" x2="557.8993274482228" y2="166.8" stroke="#555" stroke-width="0.7" />
<line x1="559.7704902183984" y1="165.5" x2="559.7704902183984" y2="166.8" stroke="#555" stroke-width="0.7" />
<line x1="561.3913651364248" y1="165.5" x2="561.3913651364248" y2="166.8" stroke="#555" stroke-width="0.7" />
<line x1="562.8210781388291" y1="165.5" x2="562.8210781388291" y2="166.8" stroke="#555" stroke-width="0.7" />
<line x1="564.1" y1="165.5" x2="564.1" y2="168.0" stroke="#333" stroke-width="0.9" />
<text x="437.2" y="111.9" font-size="5.2" fill="#222" font-weight="normal" text-anchor="middle" transform="rotate(-90 437.2 111.9)" stroke="#222" stroke-width="0.2">% of Max</text>
<line x1="507.7" y1="54.8" x2="507.7" y2="165.5" stroke="#000" stroke-width="1.5" stroke-dasharray="2.8,2.0"/>
<polyline points="452.3,164.5 475.0,164.5 482.0,164.5 484.0,164.5 485.5,158.7 486.7,146.3 487.8,125.6 488.5,115.0 489.0,113.0 490.0,108.5 491.8,111.2 493.6,97.6 495.4,98.5 496.8,88.0 498.1,76.8 499.2,67.0 500.0,61.9 501.4,69.5 502.7,93.0 503.9,95.8 505.0,103.0 506.3,111.2 507.2,113.9 508.2,109.0 509.4,102.1 510.2,104.0 511.2,104.0 512.6,111.2 514.4,105.8 516.3,100.3 517.2,90.0 518.0,81.3 518.6,80.7 519.5,89.4 520.3,90.5 520.8,81.3 521.6,77.0 522.4,74.1 523.2,80.0 524.9,87.6 526.3,109.4 527.0,115.0 527.6,125.0 528.4,136.0 530.4,141.1 531.5,147.0 532.5,152.5 534.0,155.0 535.6,156.6 537.5,160.0 539.7,162.8 542.8,164.5 564.0,164.5" fill="none" stroke="#ff0000" stroke-width="1.2" stroke-linejoin="round"/>
<polyline points="452.3,165.8 470.0,165.6 478.9,164.4 482.0,163.3 485.1,161.7 487.5,159.0 489.2,156.6 491.0,151.0 492.3,146.3 493.5,135.0 494.4,125.6 494.8,115.0 495.8,105.0 497.2,93.0 498.5,78.0 500.3,61.3 501.5,70.0 502.7,80.4 503.8,95.0 505.0,113.0 505.7,120.0 506.1,133.9 507.5,142.0 508.8,148.3 510.0,149.6 510.9,149.4 512.0,154.0 513.0,158.7 514.5,161.5 516.0,163.4 520.0,164.5 524.3,165.6 564.0,165.8" fill="none" stroke="#000" stroke-width="1.2" stroke-linejoin="round"/>
<text x="539.1" y="67.3" font-size="8.3" fill="#000" font-weight="bold" stroke="#000" stroke-width="0.3">TNF<tspan font-size="5.8" dy="-2.4">+</tspan></text>
<text x="541.8" y="87.0" font-size="12.6" fill="#000" font-weight="bold" textLength="18.3" lengthAdjust="spacingAndGlyphs" stroke="#000" stroke-width="0.45">5%</text>
<text x="533.3" y="103.7" font-size="12.6" fill="#ff0000" font-weight="bold" textLength="25.0" lengthAdjust="spacingAndGlyphs" stroke="#ff0000" stroke-width="0.45">35%</text>
<line x1="9.9" y1="174.3" x2="36.7" y2="174.3" stroke="#000" stroke-width="1.5" />
<polyline points="31.3,171.4 37.5,174.3 31.3,177.20000000000002" fill="none" stroke="#000" stroke-width="1.6" stroke-linejoin="miter"/>
<text x="12.4" y="186.6" font-size="10.0" fill="#000" font-weight="bold" textLength="18.6" lengthAdjust="spacingAndGlyphs" stroke="#000" stroke-width="0.3">TNF</text>
<line x1="307.2" y1="174.2" x2="333.9" y2="174.2" stroke="#000" stroke-width="1.5" />
<polyline points="328.5,171.29999999999998 334.7,174.2 328.5,177.1" fill="none" stroke="#000" stroke-width="1.6" stroke-linejoin="miter"/>
<text x="310.5" y="186.6" font-size="10.0" fill="#000" font-weight="bold" textLength="18.6" lengthAdjust="spacingAndGlyphs" stroke="#000" stroke-width="0.3">TNF</text>
<line x1="55.3" y1="206.5" x2="55.3" y2="316.6" stroke="#000" stroke-width="1.3" />
<line x1="54.699999999999996" y1="316.0" x2="220.8" y2="316.0" stroke="#000" stroke-width="1.3" />
<line x1="52.3" y1="316.0" x2="55.3" y2="316.0" stroke="#000" stroke-width="1.2" />
<text x="50.699999999999996" y="318.9" font-size="8.0" fill="#000" font-weight="bold" text-anchor="end" textLength="4.15" lengthAdjust="spacingAndGlyphs" stroke="#000" stroke-width="0.2">0</text>
<line x1="52.3" y1="294.22" x2="55.3" y2="294.22" stroke="#000" stroke-width="1.2" />
<text x="50.699999999999996" y="297.12" font-size="8.0" fill="#000" font-weight="bold" text-anchor="end" textLength="12.450000000000001" lengthAdjust="spacingAndGlyphs" stroke="#000" stroke-width="0.2">100</text>
<line x1="52.3" y1="272.44" x2="55.3" y2="272.44" stroke="#000" stroke-width="1.2" />
<text x="50.699999999999996" y="275.34" font-size="8.0" fill="#000" font-weight="bold" text-anchor="end" textLength="12.450000000000001" lengthAdjust="spacingAndGlyphs" stroke="#000" stroke-width="0.2">200</text>
<line x1="52.3" y1="250.66" x2="55.3" y2="250.66" stroke="#000" stroke-width="1.2" />
<text x="50.699999999999996" y="253.56" font-size="8.0" fill="#000" font-weight="bold" text-anchor="end" textLength="12.450000000000001" lengthAdjust="spacingAndGlyphs" stroke="#000" stroke-width="0.2">300</text>
<line x1="52.3" y1="228.88" x2="55.3" y2="228.88" stroke="#000" stroke-width="1.2" />
<text x="50.699999999999996" y="231.78" font-size="8.0" fill="#000" font-weight="bold" text-anchor="end" textLength="12.450000000000001" lengthAdjust="spacingAndGlyphs" stroke="#000" stroke-width="0.2">400</text>
<line x1="52.3" y1="207.1" x2="55.3" y2="207.1" stroke="#000" stroke-width="1.2" />
<text x="50.699999999999996" y="210.0" font-size="8.0" fill="#000" font-weight="bold" text-anchor="end" textLength="12.450000000000001" lengthAdjust="spacingAndGlyphs" stroke="#000" stroke-width="0.2">500</text>
<line x1="98.8" y1="316.0" x2="98.8" y2="319.8" stroke="#000" stroke-width="1.1" />
<line x1="185.0" y1="316.0" x2="185.0" y2="319.8" stroke="#000" stroke-width="1.1" />
<text x="82.0" y="327.3" font-size="8.1" fill="#000" font-weight="bold" textLength="34.6" lengthAdjust="spacingAndGlyphs" stroke="#000" stroke-width="0.25">microglia</text>
<text x="158.3" y="327.3" font-size="8.1" fill="#000" font-weight="bold" textLength="52.5" lengthAdjust="spacingAndGlyphs" stroke="#000" stroke-width="0.25">macrophages</text>
<text x="32.9" y="261.8" font-size="8.8" fill="#000" font-weight="bold" text-anchor="middle" textLength="34.5" lengthAdjust="spacingAndGlyphs" transform="rotate(-90 32.9 261.8)" >TNF MFI</text>
<line x1="82.35" y1="261.8" x2="82.35" y2="257.8" stroke="#000" stroke-width="1.3" />
<line x1="76.05" y1="257.8" x2="88.64999999999999" y2="257.8" stroke="#000" stroke-width="1.3" />
<rect x="71.65" y="262.45" width="21.400000000000002" height="53.54999999999999" fill="#000" stroke="#000" stroke-width="1.3"/>
<line x1="114.9" y1="252.0" x2="114.9" y2="246.0" stroke="#000" stroke-width="1.3" />
<line x1="108.75" y1="246.0" x2="121.05000000000001" y2="246.0" stroke="#000" stroke-width="1.3" />
<rect x="104.45" y="252.65" width="20.900000000000002" height="63.35" fill="#ff0000" stroke="#000" stroke-width="1.3"/>
<line x1="169.1" y1="261.3" x2="169.1" y2="257.3" stroke="#000" stroke-width="1.3" />
<line x1="163.45" y1="257.3" x2="174.75" y2="257.3" stroke="#000" stroke-width="1.3" />
<rect x="158.25" y="261.95" width="21.7" height="54.04999999999999" fill="#000" stroke="#000" stroke-width="1.3"/>
<line x1="201.7" y1="239.3" x2="201.7" y2="234.5" stroke="#000" stroke-width="1.3" />
<line x1="195.79999999999998" y1="234.5" x2="207.6" y2="234.5" stroke="#000" stroke-width="1.3" />
<rect x="191.45000000000002" y="239.95000000000002" width="20.499999999999982" height="76.04999999999998" fill="#ff0000" stroke="#000" stroke-width="1.3"/>
<line x1="355.5" y1="206.70000000000002" x2="355.5" y2="317.1" stroke="#000" stroke-width="1.3" />
<line x1="354.9" y1="316.5" x2="519.9" y2="316.5" stroke="#000" stroke-width="1.3" />
<line x1="352.5" y1="316.5" x2="355.5" y2="316.5" stroke="#000" stroke-width="1.2" />
<text x="351.3" y="319.4" font-size="8.0" fill="#000" font-weight="bold" text-anchor="end" textLength="4.15" lengthAdjust="spacingAndGlyphs" stroke="#000" stroke-width="0.2">0</text>
<line x1="352.5" y1="294.66" x2="355.5" y2="294.66" stroke="#000" stroke-width="1.2" />
<text x="351.3" y="297.56" font-size="8.0" fill="#000" font-weight="bold" text-anchor="end" textLength="12.450000000000001" lengthAdjust="spacingAndGlyphs" stroke="#000" stroke-width="0.2">100</text>
<line x1="352.5" y1="272.82" x2="355.5" y2="272.82" stroke="#000" stroke-width="1.2" />
<text x="351.3" y="275.71999999999997" font-size="8.0" fill="#000" font-weight="bold" text-anchor="end" textLength="12.450000000000001" lengthAdjust="spacingAndGlyphs" stroke="#000" stroke-width="0.2">200</text>
<line x1="352.5" y1="250.98000000000002" x2="355.5" y2="250.98000000000002" stroke="#000" stroke-width="1.2" />
<text x="351.3" y="253.88000000000002" font-size="8.0" fill="#000" font-weight="bold" text-anchor="end" textLength="12.450000000000001" lengthAdjust="spacingAndGlyphs" stroke="#000" stroke-width="0.2">300</text>
<line x1="352.5" y1="229.14" x2="355.5" y2="229.14" stroke="#000" stroke-width="1.2" />
<text x="351.3" y="232.04" font-size="8.0" fill="#000" font-weight="bold" text-anchor="end" textLength="12.450000000000001" lengthAdjust="spacingAndGlyphs" stroke="#000" stroke-width="0.2">400</text>
<line x1="352.5" y1="207.3" x2="355.5" y2="207.3" stroke="#000" stroke-width="1.2" />
<text x="351.3" y="210.20000000000002" font-size="8.0" fill="#000" font-weight="bold" text-anchor="end" textLength="12.450000000000001" lengthAdjust="spacingAndGlyphs" stroke="#000" stroke-width="0.2">500</text>
<line x1="398.8" y1="316.5" x2="398.8" y2="320.3" stroke="#000" stroke-width="1.1" />
<line x1="485.1" y1="316.5" x2="485.1" y2="320.3" stroke="#000" stroke-width="1.1" />
<text x="380.9" y="327.3" font-size="8.1" fill="#000" font-weight="bold" textLength="36.7" lengthAdjust="spacingAndGlyphs" stroke="#000" stroke-width="0.25">microglia</text>
<text x="459.1" y="327.3" font-size="8.1" fill="#000" font-weight="bold" textLength="51.9" lengthAdjust="spacingAndGlyphs" stroke="#000" stroke-width="0.25">macrophages</text>
<text x="333.2" y="261.8" font-size="8.8" fill="#000" font-weight="bold" text-anchor="middle" textLength="34.5" lengthAdjust="spacingAndGlyphs" transform="rotate(-90 333.2 261.8)" >TNF MFI</text>
<line x1="382.6" y1="305.4" x2="382.6" y2="304.8" stroke="#000" stroke-width="1.3" />
<line x1="376.70000000000005" y1="304.8" x2="388.5" y2="304.8" stroke="#000" stroke-width="1.3" />
<rect x="371.84999999999997" y="306.04999999999995" width="21.50000000000001" height="10.450000000000022" fill="#000" stroke="#000" stroke-width="1.3"/>
<line x1="415.20000000000005" y1="307.0" x2="415.20000000000005" y2="306.3" stroke="#000" stroke-width="1.3" />
<line x1="409.00000000000006" y1="306.3" x2="421.40000000000003" y2="306.3" stroke="#000" stroke-width="1.3" />
<rect x="404.95" y="307.65" width="20.50000000000001" height="8.85" fill="#ff0000" stroke="#000" stroke-width="1.3"/>
<line x1="469.20000000000005" y1="302.4" x2="469.20000000000005" y2="301.9" stroke="#000" stroke-width="1.3" />
<line x1="463.45000000000005" y1="301.9" x2="474.95000000000005" y2="301.9" stroke="#000" stroke-width="1.3" />
<rect x="458.25" y="303.04999999999995" width="21.899999999999988" height="13.450000000000022" fill="#000" stroke="#000" stroke-width="1.3"/>
<line x1="501.7" y1="218.2" x2="501.7" y2="212.3" stroke="#000" stroke-width="1.3" />
<line x1="495.8" y1="212.3" x2="507.59999999999997" y2="212.3" stroke="#000" stroke-width="1.3" />
<rect x="491.25" y="218.85" width="20.89999999999993" height="97.65" fill="#ff0000" stroke="#000" stroke-width="1.3"/>
<polyline points="79.6,203.70000000000002 79.6,200.9 205.6,200.9 205.6,203.70000000000002" fill="none" stroke="#111" stroke-width="1.3"/>
<text x="129.5" y="197.5" font-size="7.6" fill="#111" font-weight="normal" textLength="25.9" lengthAdjust="spacingAndGlyphs" stroke="#111" stroke-width="0.22">*p=0.03</text>
<polyline points="113.8,215.4 113.8,212.6 205.6,212.6 205.6,215.4" fill="none" stroke="#111" stroke-width="1.3"/>
<text x="155.8" y="209.8" font-size="7.6" fill="#111" font-weight="normal" textLength="6.6" lengthAdjust="spacingAndGlyphs" stroke="#111" stroke-width="0.22">ns</text>
<polyline points="171.3,229.9 171.3,227.1 205.3,227.1 205.3,229.9" fill="none" stroke="#111" stroke-width="1.3"/>
<text x="173.3" y="224.3" font-size="7.6" fill="#111" font-weight="normal" textLength="25.7" lengthAdjust="spacingAndGlyphs" stroke="#111" stroke-width="0.22">*p=0.03</text>
<line x1="389.6" y1="193.9" x2="504.4" y2="193.9" stroke="#111" stroke-width="1.4" />
<text x="432.5" y="190.4" font-size="7.4" fill="#111" font-weight="normal" textLength="29.1" lengthAdjust="spacingAndGlyphs" stroke="#111" stroke-width="0.22">*p&lt;0.001</text>
<polyline points="474.1,211.1 474.1,208.2 503.3,208.2 503.3,211.1" fill="none" stroke="#111" stroke-width="1.3"/>
<text x="472.7" y="204.8" font-size="7.4" fill="#111" font-weight="normal" textLength="29.4" lengthAdjust="spacingAndGlyphs" stroke="#111" stroke-width="0.22">*p&lt;0.001</text>
<rect x="247.5" y="289.4" width="11.6" height="12.3" fill="#000"/>
<rect x="247.5" y="310.2" width="11.6" height="12.3" fill="#ff0000"/>
<text x="262.6" y="299.6" font-size="10.8" fill="#000" font-weight="bold" textLength="15.4" lengthAdjust="spacingAndGlyphs" >WT</text>
<text x="262.3" y="320.7" font-size="10.8" fill="#000" font-weight="bold" textLength="48.8" lengthAdjust="spacingAndGlyphs" >GFAP&#947;R1&#916;</text>
</svg>
</body></html>
